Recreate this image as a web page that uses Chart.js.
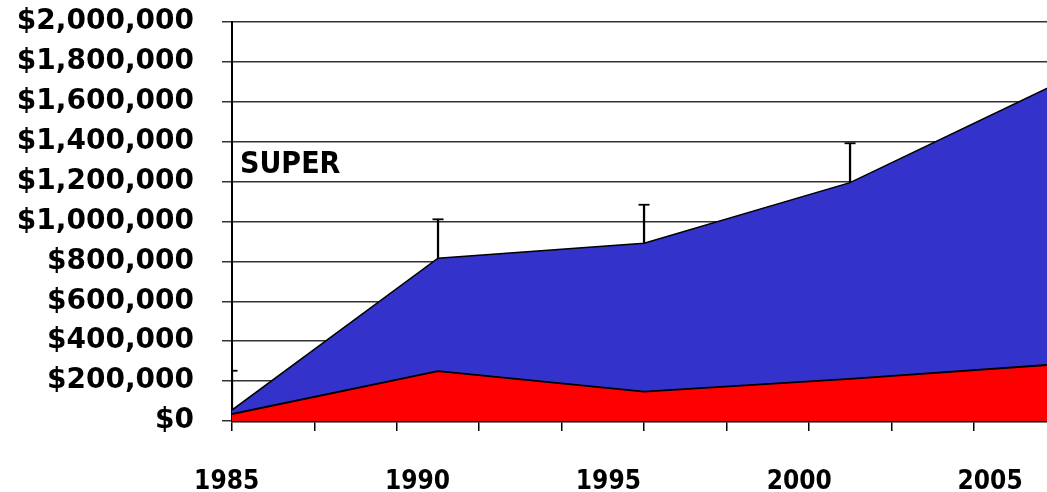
<!DOCTYPE html>
<html>
<head>
<meta charset="utf-8">
<script src="https://cdn.jsdelivr.net/npm/chart.js@4.4.1/dist/chart.umd.min.js"></script>
<style>
  body { margin: 0; background: #fff; }
</style>
</head>
<body>
<canvas id="areaChart" width="1047" height="492"></canvas>
<script>
// values
var years = [1985, 1990, 1995, 2000, 2005];
var yearLabels = ['1985', '1990', '1995', '2000', '2005'];
var lowerPart = [35000, 250000, 147000, 211000, 284000];
var superPart = [20000, 566000, 744000, 984000, 1405000];
var errorPlus = [197000, 195000, 193000, 197000, 195000];
var seriesName = 'SUPER';

var redPoints = [];
var bluePoints = [];
var errBars = [];
var errCaps = [];
for (var i = 0; i < years.length; i++) {
  var total = lowerPart[i] + superPart[i];
  redPoints.push({x: years[i], y: lowerPart[i]});
  bluePoints.push({x: years[i], y: total});
  errBars.push({x: years[i], y: [total, total + errorPlus[i]]});
  errCaps.push({x: years[i], y: total + errorPlus[i]});
}

var tickYears = [];
for (var v = 1985; v < 2004.5; v += 2) tickYears.push(v);

var seriesLabel = {
  id: 'seriesLabel',
  afterDatasetsDraw: function(chart) {
    var ctx = chart.ctx;
    var yScale = chart.scales.y;
    ctx.save();
    ctx.fillStyle = '#000';
    ctx.font = 'bold 30px "DejaVu Sans Condensed", "DejaVu Sans", sans-serif';
    ctx.textAlign = 'left';
    ctx.textBaseline = 'alphabetic';
    ctx.fillText(seriesName, chart.chartArea.left + 8, yScale.getPixelForValue(1245000));
    ctx.restore();
  }
};

function noPad(scale) {
  scale.paddingLeft = 0;
  scale.paddingRight = 0;
}

var ctx = document.getElementById('areaChart');
var areaChart = new Chart(ctx, {
  type: 'line',
  data: {
    datasets: [
      {
        type: 'bar',
        label: 'error',
        data: errBars,
        backgroundColor: '#000',
        barThickness: 1.6
      },
      {
        label: 'error cap',
        data: errCaps,
        showLine: false,
        fill: false,
        pointStyle: 'line',
        pointRadius: 5.5,
        pointBorderColor: '#000',
        pointBorderWidth: 1.8
      },
      {
        label: 'Other',
        data: redPoints,
        backgroundColor: '#ff0000',
        borderColor: '#000',
        borderWidth: 1.8,
        pointRadius: 0,
        fill: 'origin',
        tension: 0
      },
      {
        label: seriesName,
        data: bluePoints,
        backgroundColor: '#3333cc',
        borderColor: '#000',
        borderWidth: 1.5,
        pointRadius: 0,
        fill: 2,
        tension: 0
      }
    ]
  },
  options: {
    responsive: false,
    animation: false,
    layout: { padding: 0, autoPadding: false },
    plugins: {
      legend: { display: false },
      tooltip: { enabled: false }
    },
    scales: {
      x: {
        type: 'linear',
        min: 1985,
        max: 2004.78,
        offset: false,
        weight: 0,
        afterBuildTicks: function(axis) {
          axis.ticks = tickYears.map(function(t) { return {value: t}; });
        },
        afterFit: noPad,
        grid: {
          display: true,
          offset: false,
          drawOnChartArea: false,
          drawTicks: true,
          tickLength: 10,
          color: '#000',
          lineWidth: 1.5
        },
        border: { display: true, color: '#000', width: 2.5 },
        ticks: { display: false }
      },
      xl: {
        type: 'linear',
        position: 'bottom',
        display: true,
        min: 1985.14,
        max: 2006.49,
        offset: false,
        weight: 1,
        afterBuildTicks: function(axis) {
          axis.ticks = years.map(function(t) { return {value: t}; });
        },
        afterFit: function(scale) {
          scale.height = 61;
          noPad(scale);
        },
        grid: { display: false, drawTicks: false },
        border: { display: false },
        ticks: {
          autoSkip: false,
          maxRotation: 0,
          padding: 38,
          color: '#000',
          font: { family: '"DejaVu Sans Condensed", "DejaVu Sans", sans-serif', size: 26, weight: 'bold', lineHeight: 1 },
          callback: function(value) {
            var k = years.indexOf(value);
            return k >= 0 ? yearLabels[k] : '';
          }
        }
      },
      y: {
        min: 0,
        max: 2000000,
        afterFit: function(scale) {
          scale.width = 232;
          scale.paddingTop = 22;
          scale.paddingBottom = 0;
        },
        grid: {
          color: '#333',
          lineWidth: 1.5,
          tickLength: 10
        },
        border: { display: true, color: '#000', width: 2 },
        ticks: {
          stepSize: 200000,
          padding: 28,
          color: '#000',
          font: { family: '"DejaVu Sans", sans-serif', size: 28, weight: 'bold' },
          callback: function(value) {
            return '$' + value.toLocaleString('en-US');
          }
        }
      }
    }
  },
  plugins: [seriesLabel]
});
</script>
</body>
</html>
